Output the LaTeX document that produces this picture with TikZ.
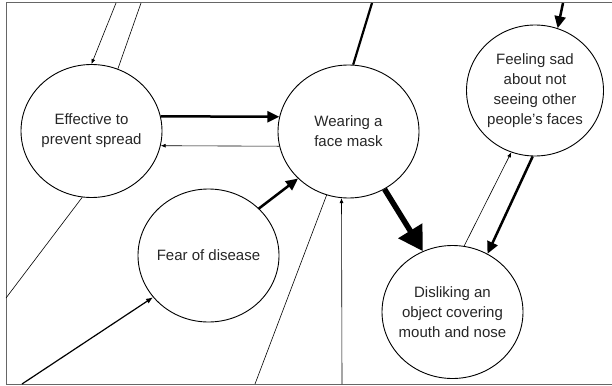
\documentclass[tikz,border=0pt]{standalone}
\usepackage{fontspec}
\setmainfont{Liberation Sans}
\usetikzlibrary{arrows.meta,shapes.geometric}

\begin{document}
\begin{tikzpicture}[
  x=1pt, y=-1pt,
  font=\fontsize{15}{20}\selectfont,
  bubble/.style = {draw, ellipse, line width=0.9pt, inner sep=0pt,
                   minimum width=141pt, minimum height=133pt},
  every label/.style = {align=center, text=black!85, inner sep=0pt},
  frame/.style  = {draw=black!60, line width=1pt},
  plain/.style  = {line width=0.6pt},
  bold/.style   = {line width=2.2pt},
  weak/.style   = {-{Latex[length=5pt, width=4pt]}, line width=0.6pt},
  mid/.style    = {-{Latex[length=7pt, width=5.5pt]}, line width=1.2pt},
  strong/.style = {-{Triangle[length=12pt, width=11pt]}, line width=2.5pt},
  heavy/.style  = {-{Triangle[length=24pt, width=27pt]}, line width=5.5pt},
]
\useasboundingbox (0,0) rectangle (612,385);

% ---------------- frame ------------------------------------------------
\draw[frame] (612,3) -- (6,3) -- (6,384) -- (612,384);

% ---------------- states -----------------------------------------------
\node[bubble, label={center:Effective to\\prevent spread}] (eff) at (91.5,131) {};
\node[bubble, label={center:Wearing a\\face mask}] (mask) at (348.5,131.5) {};
\node[bubble, label={center:Fear of disease}] (fear) at (208.5,255.5) {};
\node[bubble, minimum width=137pt, minimum height=131pt,
      label={center:Feeling sad\\about not\\seeing other\\people's faces}] (sad) at (535,90.5) {};
\node[bubble, label={center:Disliking an\\object covering\\mouth and nose}] (dis) at (452.5,312) {};

% ---------------- loose ends on the frame ------------------------------
\coordinate (t1) at (116,3);
\coordinate (t2) at (141,3);
\coordinate (t3) at (372,3);
\coordinate (t4) at (563,3);
\coordinate (l1) at (6,298);
\coordinate (b1) at (22,384);
\coordinate (b2) at (255,384);
\coordinate (b3) at (342,384);

% ---------------- edges ------------------------------------------------
\draw[weak]   (t1) -- (eff.90);
\draw[plain]  (eff.67) -- (t2);
\draw[plain]  (eff.-98) -- (l1);
\draw[strong] (eff.12) -- (mask.168);
\draw[weak]   (mask.192) -- (eff.-12);
\draw[bold]   (mask.86) -- (t3);
\draw[strong] (fear.43) -- (mask.223);
\draw[mid]    (b1) -- (fear.217);
\draw[plain]  (b2) -- (mask.251);
\draw[weak]   (b3) -- (mask.264.5);
\draw[heavy]  (mask.-58) -- (dis.116);
\draw[weak]   (dis.80) -- (sad.249);
\draw[strong] (sad.268) -- (dis.59);
\draw[strong] (t4) -- (sad.70.5);

\end{tikzpicture}
\end{document}
